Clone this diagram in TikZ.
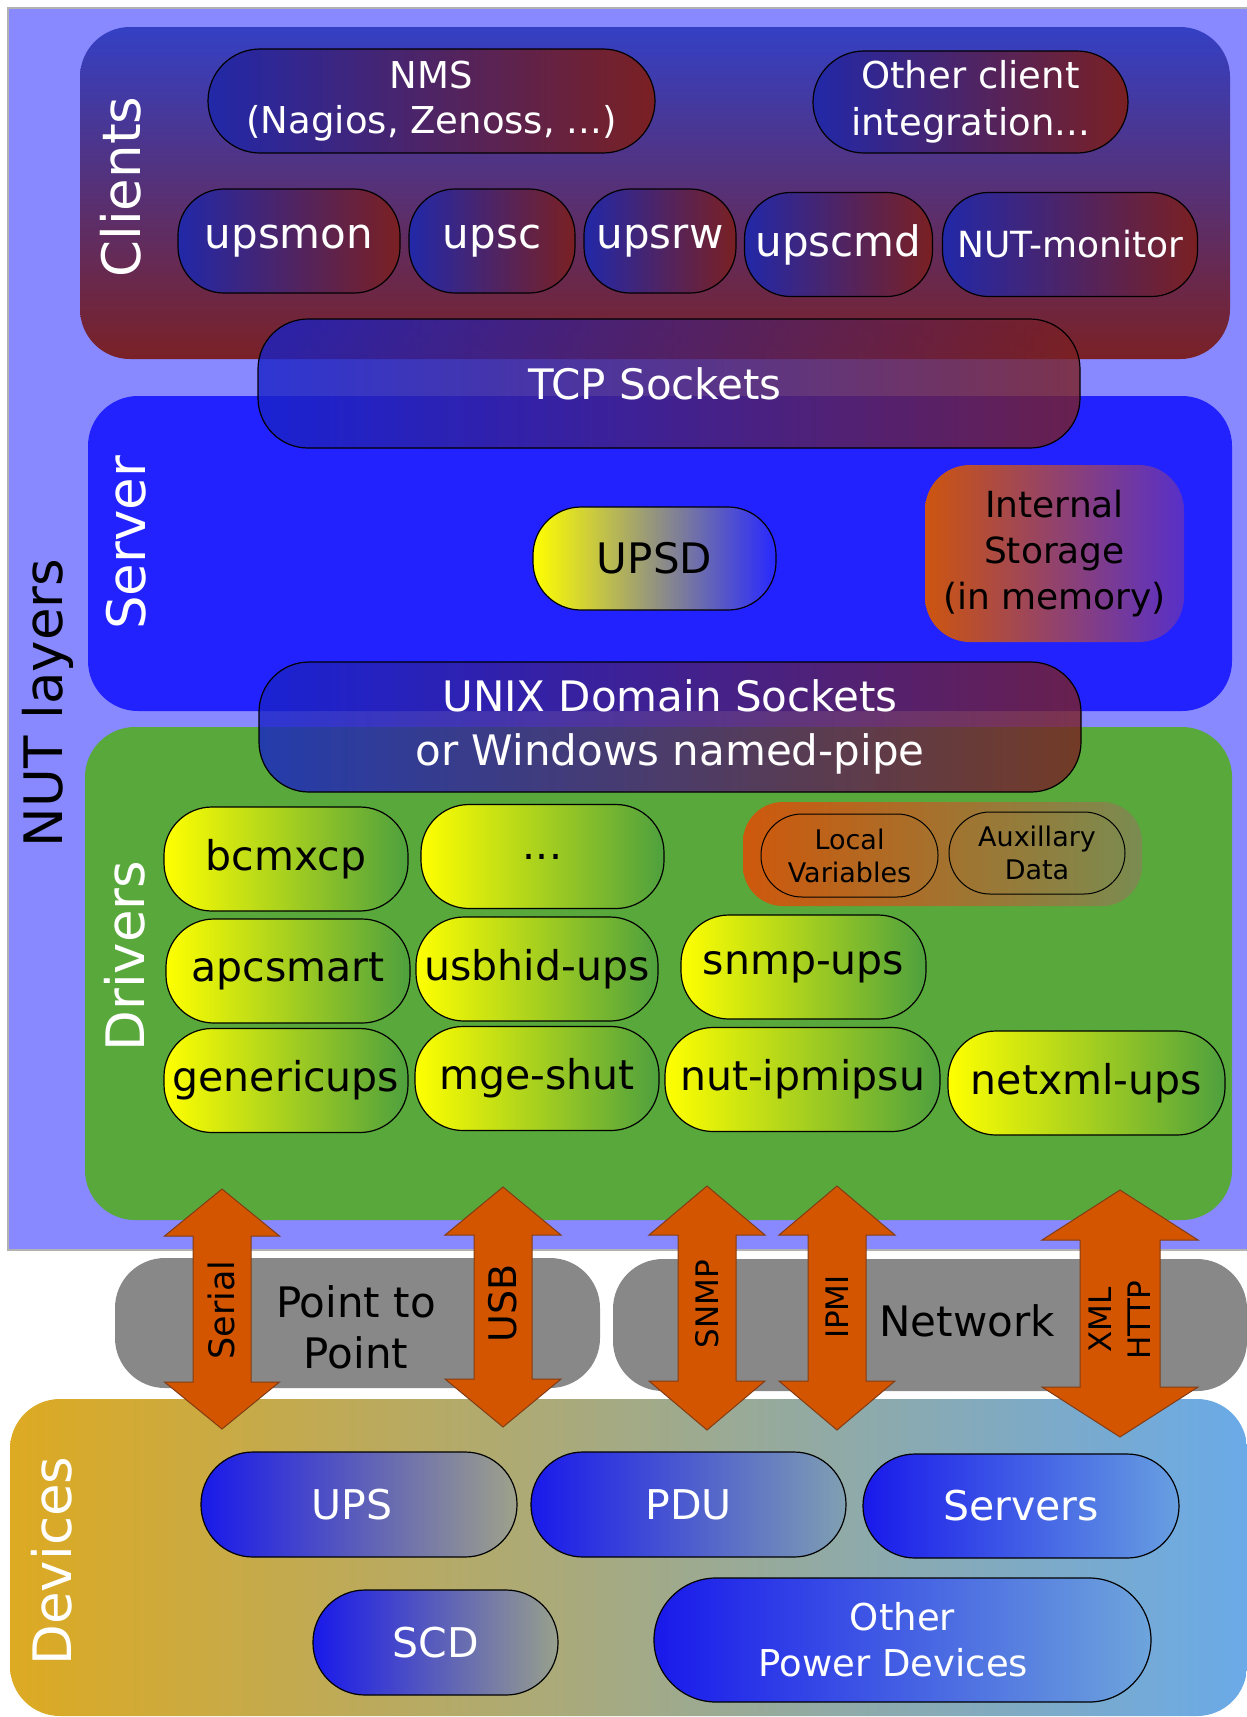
\documentclass[tikz,border=0pt]{standalone}
\usepackage{fontspec}
\setmainfont{DejaVu Sans}
\definecolor{nutbg}{RGB}{136,136,255}
\definecolor{clienttop}{RGB}{52,64,196}
\definecolor{clientbot}{RGB}{122,33,38}
\definecolor{serverblue}{RGB}{34,34,255}
\definecolor{drivergreen}{RGB}{88,168,59}
\definecolor{pillblue}{RGB}{34,40,168}
\definecolor{pillred}{RGB}{122,32,34}
\definecolor{sockblue}{RGB}{24,34,200}
\definecolor{upsdblue}{RGB}{40,40,255}
\definecolor{drvyellow}{RGB}{255,255,0}
\definecolor{drvgreen}{RGB}{78,160,62}
\definecolor{storeorange}{RGB}{205,85,15}
\definecolor{storepurple}{RGB}{88,48,200}
\definecolor{dataorange}{RGB}{206,88,12}
\definecolor{dataolive}{RGB}{122,140,80}
\definecolor{linkgray}{RGB}{136,136,136}
\definecolor{linkorange}{RGB}{212,85,0}
\definecolor{linkedge}{RGB}{130,60,20}
\definecolor{devgold}{RGB}{221,170,34}
\definecolor{devsky}{RGB}{106,170,232}
\definecolor{devblue}{RGB}{25,25,235}
\definecolor{devupsend}{RGB}{158,162,138}
\definecolor{devpduend}{RGB}{128,160,178}
\definecolor{devsrvend}{RGB}{104,160,225}
\definecolor{devscdend}{RGB}{152,160,140}
\definecolor{devotherend}{RGB}{110,165,220}
\tikzset{
    layerlabel/.style={
        rotate=90,
        text=white,
        font=\fontsize{53}{64}\selectfont
    },
    pill/.style={
        draw=black,
        line width=1.2pt,
        inner sep=0pt,
        align=center,
        font=\fontsize{42}{50}\selectfont
    },
    clientpill/.style={
        pill,
        left color=pillblue,
        right color=pillred,
        text=white,
        rounded corners=46pt
    },
    sockpill/.style={
        pill,
        left color=sockblue,
        right color=pillred,
        fill opacity=0.8,
        text opacity=1,
        text=white,
        rounded corners=50pt
    },
    driverpill/.style={
        pill,
        left color=drvyellow,
        right color=drvgreen,
        text=black,
        minimum height=104pt,
        rounded corners=48pt,
        font=\fontsize{41}{50}\selectfont
    },
    dataoval/.style={
        pill,
        line width=1pt,
        rounded corners=41pt,
        font=\fontsize{27}{33}\selectfont
    },
    devpill/.style={
        pill,
        left color=devblue,
        text=white,
        rounded corners=52pt,
        font=\fontsize{41}{50}\selectfont
    },
    linktext/.style={
        align=center,
        text=black,
        font=\fontsize{42}{51}\selectfont
    },
    linkshape/.style={
        fill=linkorange,
        draw=linkedge,
        line width=1pt
    },
    linklabel/.style={
        rotate=90,
        align=center,
        text=black
    }
}
% #1 x, #2 top tip, #3 bottom tip, #4 half shaft, #5 half head, #6 head length
\newcommand{\linkarrow}[6]{
    \filldraw [linkshape]
        (#1, #2) --
        ({#1 + #5}, {#2 + #6}) -- ({#1 + #4}, {#2 + #6}) --
        ({#1 + #4}, {#3 - #6}) -- ({#1 + #5}, {#3 - #6}) --
        (#1, #3) --
        ({#1 - #5}, {#3 - #6}) -- ({#1 - #4}, {#3 - #6}) --
        ({#1 - #4}, {#2 + #6}) -- ({#1 - #5}, {#2 + #6}) -- cycle;
}

\begin{document}
\begin{tikzpicture}[x=1pt, y=-1pt]
    \useasboundingbox (0,0) rectangle (1247,1717);
    \fill [white] (0,0) rectangle (1247,1717);

    % NUT layers
    \fill [nutbg] (8,8) rectangle (1247,1250);
    \draw [black!30, line width=1.5pt] (1247,8) -- (8,8) -- (8,1250) -- (1247,1250);
    \node [layerlabel, text=black] (nutlabel) at (48,703) {NUT layers};

    \shade [top color=clienttop, bottom color=clientbot, rounded corners=50pt]
        (80,27) rectangle (1230,359);
    \fill [serverblue, rounded corners=50pt] (88,396) rectangle (1232,711);
    \fill [drivergreen, rounded corners=50pt] (85,727) rectangle (1232,1220);

    \node [layerlabel] (clientslabel) at (121,187) {Clients};
    \node [layerlabel] (serverlabel) at (126,543) {Server};
    \node [layerlabel] (driverslabel) at (125,956) {Drivers};

    % clients
    \node [clientpill, minimum width=447pt, minimum height=104pt, rounded corners=52pt,
        font=\fontsize{37}{45}\selectfont] (nms) at (431.5,101) {NMS\\(Nagios, Zenoss, ...)};
    \node [clientpill, minimum width=315pt, minimum height=102pt, rounded corners=51pt,
        font=\fontsize{37}{47}\selectfont] (otherclient) at (970.5,102) {Other client\\integration...};
    \node [clientpill, minimum width=222pt, minimum height=104pt] (upsmon) at (289,241) {upsmon};
    \node [clientpill, minimum width=166pt, minimum height=104pt] (upsc) at (492,241) {upsc};
    \node [clientpill, minimum width=152pt, minimum height=104pt] (upsrw) at (660,241) {upsrw};
    \node [clientpill, minimum width=188pt, minimum height=104pt] (upscmd) at (838.5,244.5) {upscmd};
    \node [clientpill, minimum width=255pt, minimum height=104pt,
        font=\fontsize{36}{44}\selectfont] (nutmonitor) at (1070,244.5) {NUT-monitor};

    \node [sockpill, minimum width=822pt, minimum height=129pt] (tcp) at (669,383.5) {\hspace*{-28pt}TCP Sockets};

    % server
    \node [pill, left color=drvyellow, right color=upsdblue, minimum width=243pt, minimum height=103pt,
        rounded corners=48pt] (upsd) at (654.5,558.5) {UPSD};
    \node [inner sep=0pt, align=center, left color=storeorange, right color=storepurple,
        minimum width=259pt, minimum height=177pt, rounded corners=45pt,
        font=\fontsize{36}{46}\selectfont] (storage) at (1054.5,553.5) {Internal\\Storage\\(in memory)};

    \node [sockpill, minimum width=822pt, minimum height=130pt,
        font=\fontsize{42}{54}\selectfont] (unixsock) at (670,727) {UNIX Domain Sockets\\or Windows named-pipe};

    % drivers
    \node [driverpill, minimum width=244pt] (bcmxcp) at (286,859) {bcmxcp};
    \node [driverpill, minimum width=243pt] (moredrv) at (542.5,856.5) {...};
    \node [driverpill, minimum width=244pt] (apcsmart) at (288,971) {apcsmart};
    \node [driverpill, minimum width=242pt] (usbhid) at (537,969) {usbhid-ups};
    \node [driverpill, minimum width=245pt] (snmpups) at (803.5,967) {snmp-ups};
    \node [driverpill, minimum width=244pt] (genericups) at (286,1080.5) {genericups};
    \node [driverpill, minimum width=244pt] (mgeshut) at (537,1078.5) {mge-shut};
    \node [driverpill, minimum width=275pt] (ipmipsu) at (802.5,1079.5) {nut-ipmipsu};
    \node [driverpill, minimum width=277pt] (netxml) at (1086.5,1083) {netxml-ups};

    \node [left color=dataorange, right color=dataolive, minimum width=399pt, minimum height=104pt,
        rounded corners=40pt] (drvdata) at (942.5,854) {};
    \node [dataoval, minimum width=177pt, minimum height=83pt] (localvars) at (849.5,855.5) {Local\\Variables};
    \node [dataoval, minimum width=176pt, minimum height=82pt] (auxdata) at (1037,853) {Auxillary\\Data};

    % links
    \fill [linkgray, rounded corners=50pt] (115,1258) rectangle (600,1388);
    \fill [linkgray, rounded corners=50pt] (613,1259) rectangle (1247,1391);
    \node [linktext] (p2p) at (356,1327) {Point to\\Point};
    \node [linktext] (network) at (967,1321) {Network};

    % devices
    \shade [left color=devgold, right color=devsky, rounded corners=50pt]
        (10,1399) rectangle (1247,1716);
    \node [layerlabel] (deviceslabel) at (52,1561) {Devices};

    \node [devpill, right color=devupsend, minimum width=316pt, minimum height=105pt] (ups) at (359,1504.5) {UPS\hspace*{14pt}};
    \node [devpill, right color=devpduend, minimum width=315pt, minimum height=105pt] (pdu) at (688.5,1504.5) {PDU};
    \node [devpill, right color=devsrvend, minimum width=316pt, minimum height=104pt] (servers) at (1021,1506) {Servers};
    \node [devpill, right color=devscdend, minimum width=245pt, minimum height=105pt] (scd) at (435.5,1642.5) {SCD};
    \node [devpill, right color=devotherend, minimum width=497pt, minimum height=124pt, rounded corners=62pt,
        font=\fontsize{37}{46}\selectfont] (otherdev) at (902.5,1640) {Other\\Power Devices\hspace*{18pt}};

    % link arrows
    \linkarrow{222}{1189}{1429}{29}{57.5}{47}
    \linkarrow{503}{1187}{1427}{29}{58}{48}
    \linkarrow{707}{1186}{1430}{29}{58}{49}
    \linkarrow{837}{1186}{1430}{29}{58}{49}
    \linkarrow{1120}{1190}{1437}{40}{78}{50}

    \node [linklabel, font=\fontsize{35}{42}\selectfont] (serial) at (221,1310) {Serial};
    \node [linklabel, font=\fontsize{38}{46}\selectfont] (usb) at (503,1303) {USB};
    \node [linklabel, font=\fontsize{31}{38}\selectfont] (snmp) at (707,1304) {SNMP};
    \node [linklabel, font=\fontsize{31}{38}\selectfont] (ipmi) at (837,1307) {IPMI};
    \node [linklabel, font=\fontsize{31}{39}\selectfont] (xmlhttp) at (1120,1320) {XML\\HTTP};
\end{tikzpicture}
\end{document}
